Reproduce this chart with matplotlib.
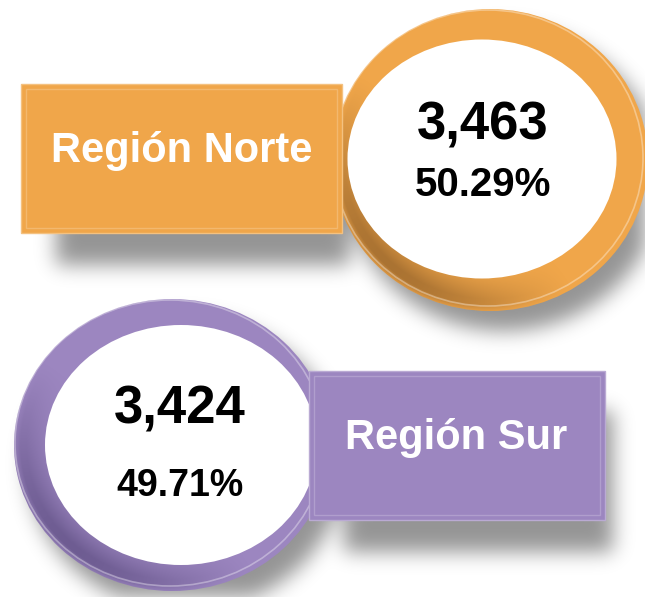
import numpy as np
import matplotlib.pyplot as plt
from matplotlib.patches import Ellipse, Rectangle
import matplotlib.colors as mcolors

# datos
regiones = ['Región Norte', 'Región Sur']
totales = [3463, 3424]
porcentajes = [50.29, 49.71]

# estilo
colores = ['#F0A64A', '#9C86C0']
oscuros = ['#9E6A2E', '#66558A']
# caja: x, y, ancho, alto ; aro: cx, cy, ancho, alto ; blanco: cx, cy, ancho, alto
cajas = [(21, 84, 321, 149), (309, 371, 296, 149)]
aros = [(490, 160, 316, 302), (172, 445, 316, 292)]
blancos = [(482, 159, 269, 239), (181, 445, 272, 240)]

W, H = 645, 597
fig = plt.figure(figsize=(W / 100, H / 100), dpi=100)
ax = fig.add_axes([0, 0, 1, 1])
ax.set_xlim(0, W)
ax.set_ylim(H, 0)
ax.axis('off')

yy, xx = np.mgrid[0:H, 0:W] + 0.5


def blur(a, s):
    k = np.arange(-3 * s, 3 * s + 1)
    g = np.exp(-k ** 2 / (2 * s * s))
    g /= g.sum()
    a = np.apply_along_axis(lambda r: np.convolve(r, g, mode='same'), 1, a)
    a = np.apply_along_axis(lambda c: np.convolve(c, g, mode='same'), 0, a)
    return a


# sombras
mask = np.zeros((H, W))
for (x, y, w, h) in cajas:
    m = (xx > x + 35) & (xx < x + w + 8) & (yy > y + 40) & (yy < y + h + 32)
    mask = np.maximum(mask, m)
for (cx, cy, w, h) in aros:
    m = ((xx - cx - 14) / (w / 2)) ** 2 + ((yy - cy - 20) / (h / 2)) ** 2 < 1
    mask = np.maximum(mask, m)
sh = blur(mask.astype(float), 10)
img = np.zeros((H, W, 4))
img[..., 3] = sh * 0.42
ax.imshow(img, extent=(0, W, H, 0), zorder=1, interpolation='bilinear')

for i in range(len(regiones)):
    cx, cy, w, h = aros[i]
    outer = Ellipse((cx, cy), w, h, facecolor=colores[i], edgecolor='none', zorder=2)
    ax.add_patch(outer)
    # sombreado del aro (oscuro abajo-izquierda)
    ang = np.arctan2(yy - cy, xx - cx)
    d = np.cos(ang - np.deg2rad(135))
    t = np.clip((d - 0.2) / 0.8, 0, 1) ** 1.3
    r = np.sqrt(((xx - cx) / (w / 2)) ** 2 + ((yy - cy) / (h / 2)) ** 2)
    t = t * np.clip((r - 0.72) / 0.2, 0, 1) * np.clip((1.0 - r) / 0.06 + 0.3, 0, 1)
    dark = mcolors.to_rgb(oscuros[i])
    shade = np.zeros((H, W, 4))
    shade[..., :3] = dark
    shade[..., 3] = t * 0.85
    im = ax.imshow(shade, extent=(0, W, H, 0), zorder=2.1, interpolation='bilinear')
    im.set_clip_path(outer)
    # brillo superior izquierdo
    ax.add_patch(Ellipse((cx - 2, cy - 2), w - 6, h - 6, facecolor='none',
                         edgecolor='white', lw=1.2, alpha=0.35, zorder=2.2))

    bx, by, bw, bh = blancos[i]
    ax.add_patch(Ellipse((bx, by), bw, bh, facecolor='white', edgecolor='none', zorder=3))

    x, y, w2, h2 = cajas[i]
    base = np.array(mcolors.to_rgb(colores[i]))
    ax.add_patch(Rectangle((x, y), w2, h2, facecolor=colores[i],
                           edgecolor=mcolors.to_hex(base * 0.7 + 0.3),
                           lw=1.0, zorder=4))
    ax.add_patch(Rectangle((x + 5, y + 5), w2 - 10, h2 - 10, facecolor='none',
                           edgecolor=mcolors.to_hex(base * 0.8 + 0.2),
                           lw=1.0, zorder=4.1))

# textos
ax.text(182, 162, regiones[0], color='white', fontsize=30, fontweight='bold',
        family='Liberation Sans', ha='center', va='baseline', zorder=5)
ax.text(456, 449, regiones[1], color='white', fontsize=30, fontweight='bold',
        family='Liberation Sans', ha='center', va='baseline', zorder=5)

ax.text(483, 140, f'{totales[0]:,}', fontsize=38, fontweight='bold',
        family='Liberation Sans', ha='center', va='baseline', zorder=5)
ax.text(483, 196, f'{porcentajes[0]:.2f}%', fontsize=29, fontweight='bold',
        family='Liberation Sans', ha='center', va='baseline', zorder=5)
ax.text(180, 424, f'{totales[1]:,}', fontsize=38, fontweight='bold',
        family='Liberation Sans', ha='center', va='baseline', zorder=5)
ax.text(180, 496, f'{porcentajes[1]:.2f}%', fontsize=27, fontweight='bold',
        family='Liberation Sans', ha='center', va='baseline', zorder=5)

fig.savefig('out.png', dpi=100, facecolor='white')
